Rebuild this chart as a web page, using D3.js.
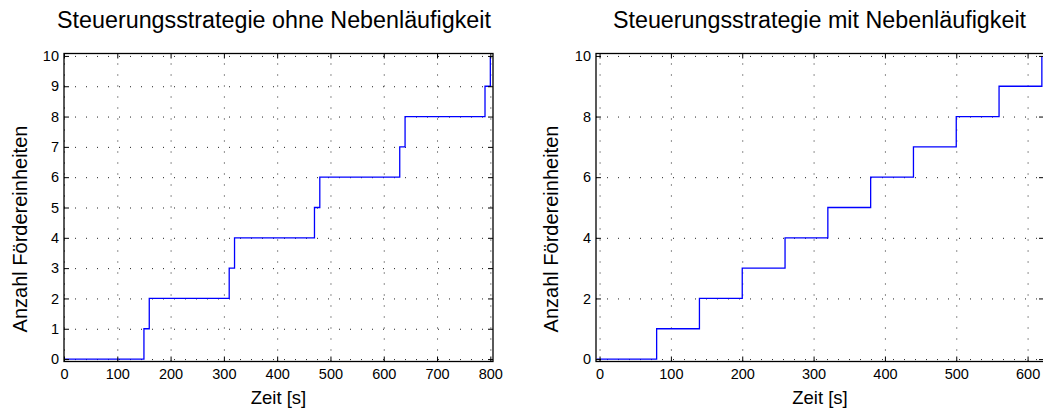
<!DOCTYPE html>
<html>
<head>
<meta charset="utf-8">
<script src="https://cdn.jsdelivr.net/npm/d3@7"></script>
<style>
  body { margin: 0; background: #fff; }
  svg { font-family: "Liberation Sans", Arial, sans-serif; }
</style>
</head>
<body>
<svg id="chart" width="1043" height="412"></svg>
<script>
// linke Grafik: ohne Nebenläufigkeit
var leftTimes = [0, 150, 160, 310, 320, 470, 480, 630, 640, 790, 800];
var leftCounts = [0, 1, 2, 3, 4, 5, 6, 7, 8, 9, 10];
var leftXTicks = [0, 100, 200, 300, 400, 500, 600, 700, 800];
var leftYTicks = [0, 1, 2, 3, 4, 5, 6, 7, 8, 9, 10];

// rechte Grafik: mit Nebenläufigkeit
var rightTimes = [-4, 80, 140, 200, 260, 320, 380, 440, 500, 560, 620];
var rightCounts = [0, 1, 2, 3, 4, 5, 6, 7, 8, 9, 10];
var rightXTicks = [0, 100, 200, 300, 400, 500, 600];
var rightYTicks = [0, 2, 4, 6, 8, 10];

var titles = ["Steuerungsstrategie ohne Nebenläufigkeit", "Steuerungsstrategie mit Nebenläufigkeit"];
var xLabel = "Zeit [s]";
var yLabel = "Anzahl Fördereinheiten";

var svg = d3.select("#chart");

function drawPanel(opt) {
  var w = opt.right - opt.left;
  var h = opt.bottom - opt.top;
  var g = svg.append("g").attr("transform", `translate(${opt.left},${opt.top})`);

  var x = d3.scaleLinear().domain(opt.xDomain).range([0, w]);
  var y = d3.scaleLinear().domain([-0.08, 10.08]).range([h, 0]);

  // gepunktetes Gitter
  g.append("g")
    .attr("transform", `translate(0,${h})`)
    .call(d3.axisBottom(x).tickValues(opt.xTicks).tickSize(-h).tickFormat(""))
    .call(a => a.select(".domain").remove())
    .selectAll("line")
    .attr("stroke", "#222")
    .attr("stroke-dasharray", "1,10");
  g.append("g")
    .call(d3.axisLeft(y).tickValues(opt.yTicks).tickSize(-w).tickFormat(""))
    .call(a => a.select(".domain").remove())
    .selectAll("line")
    .attr("stroke", "#222")
    .attr("stroke-dasharray", "1,10");

  // Treppenkurve
  var pts = opt.times.map((t, i) => [t, opt.counts[i]]);
  g.append("path")
    .datum(pts)
    .attr("fill", "none")
    .attr("stroke", "#0000ff")
    .attr("stroke-width", 1.3)
    .attr("d", d3.line().curve(d3.curveStepAfter).x(d => x(d[0])).y(d => y(d[1])));

  // Achsen mit Innen-Ticks
  var xb = g.append("g").attr("transform", `translate(0,${h})`)
    .call(d3.axisBottom(x).tickValues(opt.xTicks).tickSize(-5).tickPadding(7));
  var yl = g.append("g")
    .call(d3.axisLeft(y).tickValues(opt.yTicks).tickSize(-5).tickPadding(5));
  var xt = g.append("g")
    .call(d3.axisTop(x).tickValues(opt.xTicks).tickSize(-5).tickFormat(""));
  var yr = g.append("g").attr("transform", `translate(${w},0)`)
    .call(d3.axisRight(y).tickValues(opt.yTicks).tickSize(-5).tickFormat(""));
  [xb, yl, xt, yr].forEach(a => {
    a.select(".domain").remove();
    a.selectAll("line").attr("stroke", "#000");
    a.selectAll("text").attr("font-size", 14.5).attr("fill", "#000")
      .attr("font-family", "Liberation Sans, Arial, sans-serif");
  });

  g.append("rect")
    .attr("width", w).attr("height", h)
    .attr("fill", "none").attr("stroke", "#000").attr("stroke-width", 1.3);

  svg.append("text")
    .attr("x", opt.titleX).attr("y", 28)
    .attr("text-anchor", "middle").attr("font-size", 23.3)
    .text(opt.title);
  svg.append("text")
    .attr("x", opt.left + w / 2).attr("y", 404)
    .attr("text-anchor", "middle").attr("font-size", 18.5)
    .text(xLabel);
  svg.append("text")
    .attr("transform", `translate(${opt.yLabelX},229) rotate(-90)`)
    .attr("text-anchor", "middle").attr("font-size", 20)
    .text(yLabel);
}

drawPanel({
  left: 64, right: 493, top: 53.5, bottom: 361.5,
  xDomain: [0, 805], times: leftTimes, counts: leftCounts,
  xTicks: leftXTicks, yTicks: leftYTicks, title: titles[0],
  titleX: 274, yLabelX: 27
});
drawPanel({
  left: 596, right: 1044, top: 53.5, bottom: 361.5,
  xDomain: [-5, 623], times: rightTimes, counts: rightCounts,
  xTicks: rightXTicks, yTicks: rightYTicks, title: titles[1],
  titleX: 819.5, yLabelX: 558
});
</script>
</body>
</html>
